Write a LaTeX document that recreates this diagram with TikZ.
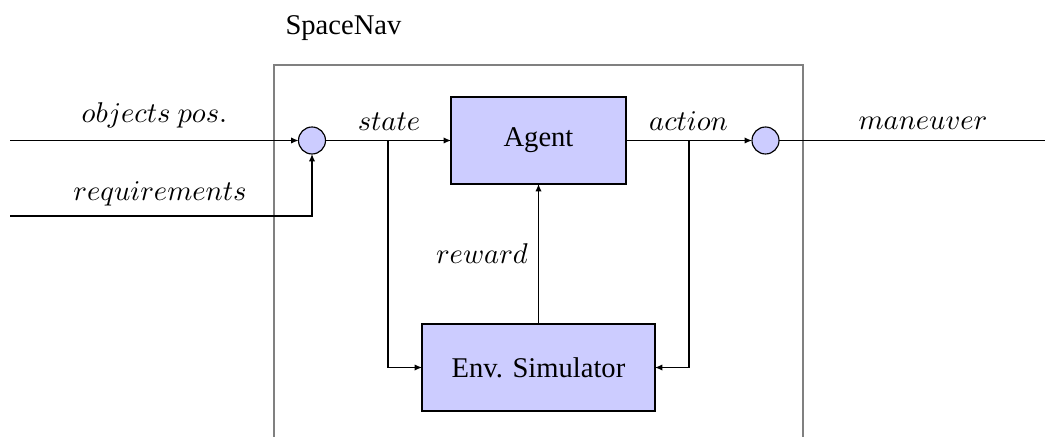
\documentclass[tikz,border=0pt]{standalone}
\usepackage{fontspec}
\setmainfont{Liberation Serif}
\usetikzlibrary{arrows.meta}
\begin{document}
\begin{tikzpicture}[x=0.35pt,y=-0.35pt,
  blk/.style={draw=black,fill=blue!20,line width=0.4pt,inner sep=0pt,outer sep=0pt,font=\fontsize{10}{12}\selectfont},
  sumnode/.style={circle,draw=black,fill=blue!20,line width=0.4pt,inner sep=0pt,outer sep=0pt,minimum size=9.45pt},
  conn/.style={draw=black,line width=0.4pt,-{Latex[length=2.6pt,width=2.2pt]}},
  wire/.style={draw=black,line width=0.4pt},
  lbl/.style={anchor=base,inner sep=0pt,font=\fontsize{10}{12}\selectfont},
  frame/.style={draw=gray,line width=0.7pt}]
\useasboundingbox (0,0) rectangle (1053,437);
% frame
\draw[frame] (274,440) -- (274,65) -- (803,65) -- (803,440);
\node[anchor=base west,inner sep=0pt,font=\fontsize{10}{12}\selectfont] (title) at (285,35) {SpaceNav};
% blocks
\node[blk,minimum width=61.25pt,minimum height=30.45pt] (agent) at (538.5,140.5) {Agent};
\node[blk,minimum width=81.55pt,minimum height=30.45pt] (env) at (538.5,367.5) {Env. Simulator};
\node[sumnode] (s1) at (312,140.5) {};
\node[sumnode] (s2) at (765.5,140.5) {};
% coordinates
\coordinate (inobj) at (10,140.5);
\coordinate (inreq) at (10,216);
\coordinate (reqc) at (312,216);
\coordinate (out) at (1045,140.5);
\coordinate (bs) at (388,140.5);
\coordinate (bsd) at (388,367.5);
\coordinate (ba) at (689,140.5);
\coordinate (bad) at (689,367.5);
% connectors
\draw[conn] (inobj) -- (s1.west);
\draw[conn] (inreq) -- (reqc) -- (s1.south);
\draw[conn] (s1.east) -- (agent.west);
\draw[wire] (agent.east) -- (ba);
\draw[conn] (ba) -- (s2.west);
\draw[wire] (s2.east) -- (out);
\draw[conn] (bs) -- (bsd) -- (env.west);
\draw[conn] (ba) -- (bad) -- (env.east);
\draw[conn] (env.north) -- (agent.south);
% labels
\node[lbl] (lobj) at (154.5,123) {$objects\ pos.$};
\node[lbl] (lreq) at (160,200) {$requirements$};
\node[lbl] (lstate) at (389,131) {$state$};
\node[lbl] (laction) at (688.5,131) {$action$};
\node[lbl] (lman) at (923,130) {$maneuver$};
\node[lbl] (lrew) at (482,263) {$reward$};
\end{tikzpicture}
\end{document}
